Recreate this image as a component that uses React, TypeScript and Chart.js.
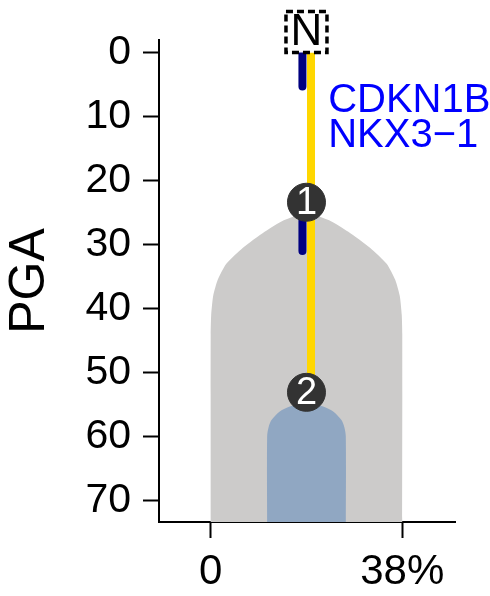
import React, { useEffect, useRef } from "react";
import { Chart, registerables } from "chart.js";

Chart.register(...registerables);

// ---- data ----
const yTicks = [0, 10, 20, 30, 40, 50, 60, 70];
const xTicks = [0, 38];
const xTickLabels = ["0", "38%"];
const yTitle = "PGA";

const violinCenter = 19;
const grayLevels = [25.1, 26.2, 28.0, 30.5, 33.0, 35.5, 38.0, 41.0, 44.0, 75];
const grayHalfWidths = [0, 4.5, 8.3, 12.6, 15.9, 17.6, 18.5, 18.9, 19, 19];
const blueLevels = [54.8, 55.3, 56.1, 57.4, 58.5, 60.0, 75];
const blueHalfWidths = [0, 3.3, 5.3, 6.9, 7.5, 7.8, 7.8];

const trunkX = 19.9;
const trunkY = [0, 53.1];
const eventX = 18.2;
const eventStarts = [0, 25];
const eventEnds = [5.3, 31];

const nodeX = [19, 19];
const nodeY = [23.4, 53.1];
const nodeLabels = ["1", "2"];

const rootLabel = "N";
const rootX = 19;
const rootY = -3.2;

const geneLabels = ["CDKN1B", "NKX3\u22121"];
const geneX = 23.3;
const geneY = [7.6, 13.1];

const FONT = '"Liberation Sans", Arial, Helvetica, sans-serif';

function violinPoints(center: number, levels: number[], half: number[]) {
  const pts: { x: number; y: number }[] = [];
  for (let i = levels.length - 1; i >= 0; i--) pts.push({ x: center - half[i], y: levels[i] });
  for (let i = 1; i < levels.length; i++) pts.push({ x: center + half[i], y: levels[i] });
  return pts;
}

const NODE_DATASET = 5;

const annotationPlugin = {
  id: "treeAnnotations",
  afterDatasetsDraw(chart: any) {
    const ctx = chart.ctx as CanvasRenderingContext2D;
    const xs = chart.scales.x;
    const ys = chart.scales.y;
    ctx.save();
    // node labels
    const meta = chart.getDatasetMeta(NODE_DATASET);
    ctx.fillStyle = "#ffffff";
    ctx.font = `38px ${FONT}`;
    ctx.textAlign = "center";
    ctx.textBaseline = "middle";
    meta.data.forEach((pt: any, i: number) => {
      ctx.fillText(nodeLabels[i], pt.x, pt.y + 1);
    });
    // root box
    const bx = xs.getPixelForValue(rootX);
    const by = ys.getPixelForValue(rootY);
    const s = 41;
    ctx.fillStyle = "#ffffff";
    ctx.fillRect(bx - s / 2, by - s / 2, s, s);
    ctx.setLineDash([7, 4]);
    ctx.lineWidth = 3.5;
    ctx.strokeStyle = "#000000";
    ctx.strokeRect(bx - s / 2, by - s / 2, s, s);
    ctx.setLineDash([]);
    ctx.fillStyle = "#000000";
    ctx.font = `44px ${FONT}`;
    ctx.fillText(rootLabel, bx, by + 1);
    // gene labels
    ctx.fillStyle = "#0000ff";
    ctx.font = `40px ${FONT}`;
    ctx.textAlign = "left";
    geneLabels.forEach((g, i) => {
      ctx.fillText(g, xs.getPixelForValue(geneX), ys.getPixelForValue(geneY[i]));
    });
    ctx.restore();
  },
};

export default function App() {
  const ref = useRef<HTMLCanvasElement | null>(null);
  useEffect(() => {
    if (!ref.current) return;
    Chart.defaults.font.family = FONT;
    const chart = new Chart(ref.current, {
      type: "line",
      data: {
        datasets: [
          {
            data: violinPoints(violinCenter, grayLevels, grayHalfWidths),
            backgroundColor: "#cccbca",
            borderWidth: 0,
            pointRadius: 0,
            fill: "shape",
            tension: 0.2,
            order: 10,
          } as any,
          {
            data: violinPoints(violinCenter, blueLevels, blueHalfWidths),
            backgroundColor: "#90a7c2",
            borderWidth: 0,
            pointRadius: 0,
            fill: "shape",
            tension: 0.3,
            order: 9,
          } as any,
          {
            data: trunkY.map((y) => ({ x: trunkX, y })),
            borderColor: "#ffd700",
            borderWidth: 8,
            pointRadius: 0,
            fill: false,
            order: 8,
          },
          {
            data: [{ x: eventX, y: eventStarts[0] }, { x: eventX, y: eventEnds[0] }],
            borderColor: "#000080",
            borderWidth: 8,
            borderCapStyle: "round",
            pointRadius: 0,
            fill: false,
            order: 7,
          },
          {
            data: [{ x: eventX, y: eventStarts[1] }, { x: eventX, y: eventEnds[1] }],
            borderColor: "#000080",
            borderWidth: 8,
            borderCapStyle: "round",
            pointRadius: 0,
            fill: false,
            order: 7,
          },
          {
            type: "scatter",
            data: nodeX.map((x, i) => ({ x, y: nodeY[i] })),
            backgroundColor: "#333333",
            borderColor: "#333333",
            borderWidth: 1,
            pointRadius: 19,
            pointHoverRadius: 19,
            showLine: false,
            order: 1,
          } as any,
        ],
      },
      options: {
        responsive: false,
        animation: false,
        devicePixelRatio: 1,
        events: [],
        layout: { padding: { top: 40, right: 35, left: 0, bottom: 0 } },
        plugins: { legend: { display: false }, tooltip: { enabled: false } },
        scales: {
          x: {
            type: "linear",
            min: -10.25,
            max: 48.46,
            afterBuildTicks: (scale: any) => {
              scale.ticks = xTicks.map((v) => ({ value: v }));
            },
            afterFit: (scale: any) => {
              scale.height = 74;
            },
            ticks: {
              autoSkip: false,
              maxRotation: 0,
              color: "#000",
              font: { size: 42 },
              padding: 9,
              callback: (v: any) => {
                const idx = xTicks.indexOf(Number(v));
                return idx >= 0 ? xTickLabels[idx] : "";
              },
            },
            grid: {
              drawOnChartArea: false,
              drawTicks: true,
              tickLength: 16,
              tickWidth: 2,
              tickColor: "#000",
            },
            border: { display: true, color: "#000", width: 2 },
          },
          y: {
            type: "linear",
            reverse: true,
            min: -1.95,
            max: 73.36,
            afterBuildTicks: (scale: any) => {
              scale.ticks = yTicks.map((v) => ({ value: v }));
            },
            afterFit: (scale: any) => {
              scale.width = 159;
            },
            ticks: {
              autoSkip: false,
              color: "#000",
              font: { size: 41 },
              padding: 12,
            },
            grid: {
              drawOnChartArea: false,
              drawTicks: true,
              tickLength: 16,
              tickWidth: 2,
              tickColor: "#000",
            },
            border: { display: true, color: "#000", width: 2 },
            title: {
              display: true,
              text: yTitle,
              color: "#000",
              font: { size: 50 },
              padding: { top: 0, bottom: 0 },
            },
          },
        },
      },
      plugins: [annotationPlugin],
    });
    return () => chart.destroy();
  }, []);
  return (
    <canvas
      ref={ref}
      width={490}
      height={596}
      style={{ position: "absolute", left: 0, top: 0, width: 490, height: 596, display: "block" }}
    />
  );
}
